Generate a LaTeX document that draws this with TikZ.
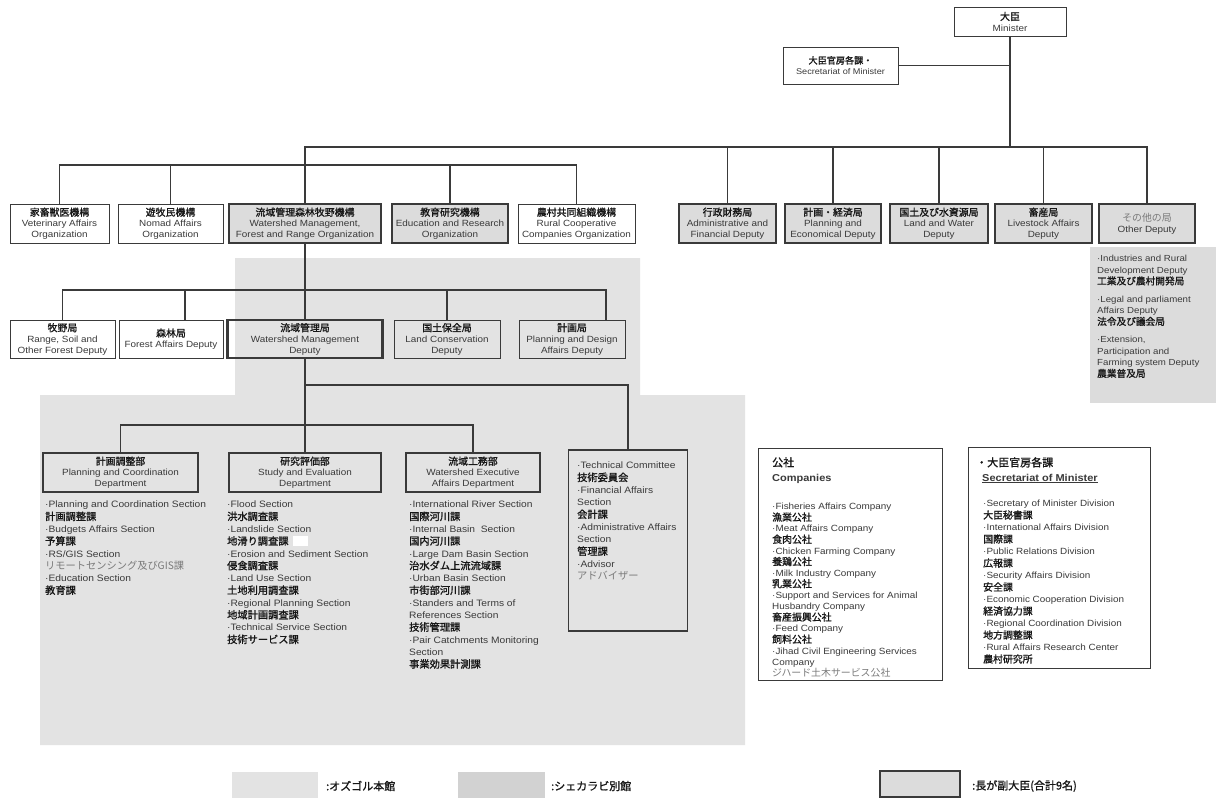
\documentclass[tikz,border=0pt]{standalone}
\usepackage{fontspec}
\setmainfont{Liberation Sans}[FakeStretch=1.1]
\newfontfamily\jpb{Noto Sans CJK JP}[Scale=1.1,FakeBold=1.2]
\newfontfamily\jpr{Noto Sans CJK JP}[Scale=1.1]
\definecolor{bgA}{HTML}{E3E3E3}
\definecolor{bgB}{HTML}{D2D2D2}
\definecolor{boxgray}{HTML}{DCDCDC}
\definecolor{etxt}{HTML}{3A3A3A}
\definecolor{jcol}{HTML}{161616}
\definecolor{jlight}{HTML}{7A7A7A}
\definecolor{lncol}{HTML}{3A3A3A}
\newcommand\jb[1]{{\jpb\color{jcol}#1}}
\newcommand\jl[1]{{\jpr\color{jlight}#1}}
\tikzset{
  org/.style={draw=lncol, line width=0.9pt, minimum height=39pt, inner sep=1pt,
    align=center, font=\fontsize{9}{10.8}\selectfont, text=etxt},
  orggray/.style={org, fill=boxgray, line width=1.4pt},
  orgthick/.style={org, fill=boxgray, line width=2.4pt},
  dept/.style={org, line width=2.4pt},
  lst/.style={anchor=north west, align=left, inner sep=0pt, text=etxt,
    font=\fontsize{9.3}{12.3}\selectfont},
  conn/.style={draw=lncol, line width=1.1pt},
  legtxt/.style={anchor=west, inner sep=0pt, font=\fontsize{10}{12}\selectfont, text=jcol}
}
\begin{document}
\begin{tikzpicture}[x=1pt,y=-1pt]
\useasboundingbox (0,0) rectangle (1216,803);
\fill[white] (0,0) rectangle (1216,803);
% building shading
\fill[bgA] (235,258) -- (640,258) -- (640,395) -- (745,395) -- (745,745)
  -- (40,745) -- (40,395) -- (235,395) -- cycle;
\fill[boxgray] (1090,247) rectangle (1216,403);

% top
\node[org, minimum width=112pt, minimum height=29pt] (min) at (1010,21.5) {\jb{大臣}\\Minister};
\node[org, minimum width=115pt, minimum height=37pt, font=\fontsize{8.3}{11}\selectfont] (sec) at (840.5,65.5) {\jb{大臣官房各課・}\\Secretariat of Minister};

% row 1
\node[org, minimum width=99pt] (vet) at (59.5,223.5) {\jb{家畜獣医機構}\\Veterinary Affairs\\Organization};
\node[org, minimum width=105pt] (nomad) at (170.5,223.5) {\jb{遊牧民機構}\\Nomad Affairs\\Organization};
\node[orgthick, minimum width=152pt] (wsorg) at (305,223.5) {\jb{流域管理森林牧野機構}\\Watershed Management,\\Forest and Range Organization};
\node[orggray, minimum width=116pt] (edu) at (450,223.5) {\jb{教育研究機構}\\Education and Research\\Organization};
\node[org, minimum width=117pt] (rural) at (576.5,223.5) {\jb{農村共同組織機構}\\Rural Cooperative\\Companies Organization};
\node[orggray, minimum width=97pt] (admin) at (727.5,223.5) {\jb{行政財務局}\\Administrative and\\Financial Deputy};
\node[orggray, minimum width=96pt] (planec) at (833,223.5) {\jb{計画・経済局}\\Planning and\\Economical Deputy};
\node[orggray, minimum width=98pt] (landw) at (939,223.5) {\jb{国土及び水資源局}\\Land and Water\\Deputy};
\node[orggray, minimum width=97pt] (live) at (1043.5,223.5) {\jb{畜産局}\\Livestock Affairs\\Deputy};
\node[orggray, minimum width=96pt] (other) at (1147,223.5) {\jl{その他の局}\\Other Deputy};

% other deputies list
\node[lst, font=\fontsize{8.8}{11.5}\selectfont] (otherlist) at (1097,255) {%
·Industries and Rural\\Development Deputy\\\jb{工業及び農村開発局}\\[6pt]
·Legal and parliament\\Affairs Deputy\\\jb{法令及び議会局}\\[6pt]
·Extension,\\Participation and\\Farming system Deputy\\\jb{農業普及局}};

% row 2
\node[org, minimum width=105pt, minimum height=38pt] (range) at (62.5,339) {\jb{牧野局}\\Range, Soil and\\Other Forest Deputy};
\node[org, minimum width=104pt, minimum height=38pt] (forest) at (171,339) {\jb{森林局}\\Forest Affairs Deputy};
\node[dept, minimum width=155pt, minimum height=38pt] (wsdep) at (305,339) {\jb{流域管理局}\\Watershed Management\\Deputy};
\node[org, minimum width=106pt, minimum height=38pt] (landc) at (447,339) {\jb{国土保全局}\\Land Conservation\\Deputy};
\node[org, minimum width=106pt, minimum height=38pt] (pd) at (572,339) {\jb{計画局}\\Planning and Design\\Affairs Deputy};

% departments
\node[dept, minimum width=155pt] (pcd) at (120.5,472.5) {\jb{計画調整部}\\Planning and Coordination\\Department};
\node[dept, minimum width=152pt] (study) at (305,472.5) {\jb{研究評価部}\\Study and Evaluation\\Department};
\node[dept, minimum width=134pt] (wex) at (473,472.5) {\jb{流域工務部}\\Watershed Executive\\Affairs Department};
\node[draw=lncol, line width=1.4pt, minimum width=119pt, minimum height=181pt, inner sep=0pt] (tc) at (628,540.5) {};

% lists
\node[lst] (pcdlist) at (45,501) {%
·Planning and Coordination Section\\\jb{計画調整課}\\·Budgets Affairs Section\\\jb{予算課}\\
·RS/GIS Section\\\jl{リモートセンシング及びGIS課}\\·Education Section\\\jb{教育課}};
\node[lst] (studylist) at (227,501) {%
·Flood Section\\\jb{洪水調査課}\\·Landslide Section\\\jb{地滑り調査課}\\
·Erosion and Sediment Section\\\jb{侵食調査課}\\·Land Use Section\\\jb{土地利用調査課}\\
·Regional Planning Section\\\jb{地域計画調査課}\\·Technical Service Section\\\jb{技術サービス課}};
\fill[white] (293,536) rectangle (308,546);
\node[lst] (wexlist) at (409,501) {%
·International River Section\\\jb{国際河川課}\\·Internal Basin\ \ Section\\\jb{国内河川課}\\
·Large Dam Basin Section\\\jb{治水ダム上流流域課}\\·Urban Basin Section\\\jb{市街部河川課}\\
·Standers and Terms of\\References Section\\\jb{技術管理課}\\
·Pair Catchments Monitoring\\Section\\\jb{事業効果計測課}};
\node[lst] (tclist) at (577,462) {%
·Technical Committee\\\jb{技術委員会}\\·Financial Affairs\\Section\\\jb{会計課}\\
·Administrative Affairs\\Section\\\jb{管理課}\\·Advisor\\\jl{アドバイザー}};

% companies
\node[draw=lncol, line width=0.9pt, minimum width=184pt, minimum height=232pt, inner sep=0pt] (comp) at (850,564) {};
\node[lst, font=\fontsize{10}{15}\selectfont] (comptitle) at (772,457) {\jb{公社}\\\textbf{Companies}};
\node[lst, font=\fontsize{9}{11.1}\selectfont] (complist) at (772,503) {%
·Fisheries Affairs Company\\\jb{漁業公社}\\·Meat Affairs Company\\\jb{食肉公社}\\
·Chicken Farming Company\\\jb{養鶏公社}\\·Milk Industry Company\\\jb{乳業公社}\\
·Support and Services for Animal\\Husbandry Company\\\jb{畜産振興公社}\\
·Feed Company\\\jb{飼料公社}\\·Jihad Civil Engineering Services\\Company\\\jl{ジハード土木サービス公社}};

% secretariat list
\node[draw=lncol, line width=0.9pt, minimum width=182pt, minimum height=221pt, inner sep=0pt] (secbox) at (1059,557.5) {};
\node[lst, font=\fontsize{10}{14.5}\selectfont] (sectitle) at (976,457) {\jb{・大臣官房各課}\\\hspace*{6pt}\underline{\textbf{Secretariat of Minister}}};
\node[lst, font=\fontsize{9}{12}\selectfont] (seclist) at (983,500) {%
·Secretary of Minister Division\\\jb{大臣秘書課}\\·International Affairs Division\\\jb{国際課}\\
·Public Relations Division\\\jb{広報課}\\·Security Affairs Division\\\jb{安全課}\\
·Economic Cooperation Division\\\jb{経済協力課}\\·Regional Coordination Division\\\jb{地方調整課}\\
·Rural Affairs Research Center\\\jb{農村研究所}};

% connectors
\coordinate (hmain) at (0,147);
\coordinate (hleft) at (0,165);
\coordinate (h2) at (0,290);
\coordinate (h3) at (0,385);
\coordinate (h4) at (0,425);
\coordinate (fv) at (185,290);
\coordinate (pdv) at (606,290);
\draw[conn] (min.south) -- (min.south |- hmain);
\draw[conn] (sec.east) -- (sec.east -| min.south);
\draw[conn] (wsorg.north) -- (wsorg.north |- hmain) -- (other.north |- hmain) -- (other.north);
\foreach \n in {admin,planec,landw,live} \draw[conn] (\n.north) -- (\n.north |- hmain);
\draw[conn] (vet.north) -- (vet.north |- hleft) -- (rural.north |- hleft) -- (rural.north);
\foreach \n in {nomad,edu} \draw[conn] (\n.north) -- (\n.north |- hleft);
\draw[conn] (wsorg.south) -- (wsdep.north);
\draw[conn] (range.north) -- (range.north |- h2) -- (pdv) -- (pdv |- pd.north);
\draw[conn] (fv) -- (fv |- forest.north);
\draw[conn] (landc.north) -- (landc.north |- h2);
\draw[conn] (wsdep.south) -- (study.north);
\draw[conn] (wsdep.south |- h3) -- (tc.north |- h3) -- (tc.north);
\draw[conn] (pcd.north) -- (pcd.north |- h4) -- (wex.north |- h4) -- (wex.north);

% legend
\fill[bgA] (232,772) rectangle (318,798);
\node[inner sep=0pt, minimum width=86pt, minimum height=26pt] (legA) at (275,785) {};
\node[legtxt] (legAt) at (326,786) {\jb{:オズゴル本館}};
\fill[bgB] (458,772) rectangle (545,798);
\node[inner sep=0pt, minimum width=87pt, minimum height=26pt] (legB) at (501.5,785) {};
\node[legtxt] (legBt) at (551,786) {\jb{:シェカラビ別館}};
\node[draw=lncol, fill=boxgray, line width=1.4pt, minimum width=80pt, minimum height=26pt, inner sep=0pt] (legC) at (920,784) {};
\node[legtxt] (legCt) at (972,786) {\jb{:長が副大臣(合計9名)}};
\end{tikzpicture}
\end{document}
